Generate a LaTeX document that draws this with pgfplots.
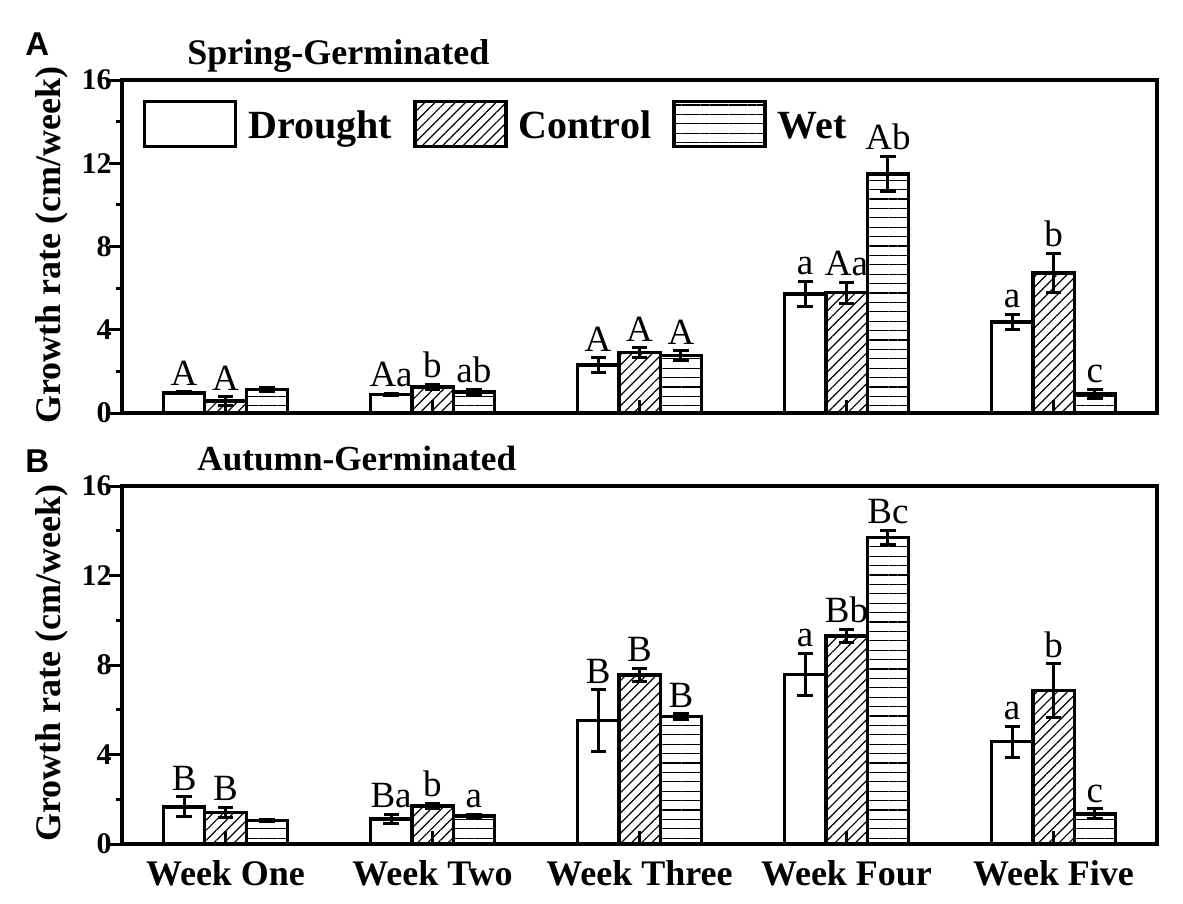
\documentclass[border=0pt]{standalone}
\usepackage{fontspec}
\setmainfont{Liberation Serif}
\newfontfamily\arialf{Liberation Sans}
\usepackage{pgfplots}
\usepackage{pgfplotstable}
\pgfplotsset{compat=1.18}
\usetikzlibrary{patterns.meta}

\pgfplotstableread{
x y err top lab
0 0.97 0.05 1.02 A
1 0.90 0.05 0.95 Aa
2 2.30 0.35 2.65 A
3 5.72 0.60 6.32 a
4 4.37 0.38 4.75 a
}\Adrought
\pgfplotstableread{
x y err top lab
0 0.58 0.20 0.78 A
1 1.25 0.12 1.37 b
2 2.90 0.25 3.15 A
3 5.78 0.50 6.28 Aa
4 6.73 0.95 7.68 b
}\Acontrol
\pgfplotstableread{
x y err top lab
0 1.12 0.10 1.22 {}
1 1.00 0.15 1.15 ab
2 2.75 0.25 3.00 A
3 11.48 0.85 12.33 Ab
4 0.92 0.20 1.12 c
}\Awet
\pgfplotstableread{
x y err top lab
0 1.66 0.45 2.11 B
1 1.12 0.22 1.34 Ba
2 5.52 1.37 6.89 B
3 7.58 0.93 8.51 a
4 4.57 0.70 5.27 a
}\Bdrought
\pgfplotstableread{
x y err top lab
0 1.42 0.22 1.64 B
1 1.70 0.12 1.82 b
2 7.55 0.30 7.85 B
3 9.30 0.30 9.60 Bb
4 6.85 1.20 8.05 b
}\Bcontrol
\pgfplotstableread{
x y err top lab
0 1.05 0.06 1.11 {}
1 1.25 0.07 1.32 a
2 5.70 0.12 5.82 B
3 13.70 0.33 14.03 Bc
4 1.35 0.22 1.57 c
}\Bwet

\pgfplotsset{
  panel/.style={
    scale only axis, width=517.5pt,
    xmin=-0.5, xmax=4.5, ymin=0, ymax=16,
    ybar=0pt, bar width=20.7pt,
    xtick={0,1,2,3,4}, ytick={0,4,8,12,16}, minor ytick={2,6,10,14},
    xtick pos=bottom, ytick pos=left,
    xtick align=inside, ytick align=outside,
    major tick length=6.5pt, minor tick length=3.2pt,
    every tick/.style={black, line width=1.5pt},
    axis line style={line width=1.7pt},
    axis on top,
    /pgf/number format/assume math mode=true,
    yticklabel style={font=\fontsize{15}{15}\selectfont\bfseries, inner sep=0pt, xshift=1.5pt},
    ylabel={Growth rate (cm/week)},
    ylabel style={at={(axis description cs:-0.068,0.505)}, anchor=center, font=\fontsize{18}{18}\selectfont\bfseries},
    legend image code/.code={\draw[##1, line width=1.7pt] (0pt,-4pt) rectangle (45.5pt,18.5pt); \path (51pt,0pt);},
  },
  drought/.style={draw=black, fill=white, line width=1.7pt},
  control/.style={draw=black, line width=1.7pt, pattern={Lines[angle=45,distance=3.6pt,line width=0.6pt]}},
  wet/.style={draw=black, line width=1.7pt, pattern={Lines[angle=0,distance=4.7pt,line width=0.6pt]}},
  errs/.style={forget plot, bar shift=#1,
    error bars/.cd, y dir=both, y explicit,
    error bar style={line width=1.5pt, black},
    error mark options={rotate=90, line width=1.5pt, mark size=3.8pt, black}},
  labs/.style={forget plot, bar shift=#1, draw=none, fill=none,
    point meta=explicit symbolic, nodes near coords,
    every node near coord/.append style={anchor=south, inner sep=0pt, black,
      font=\fontsize{18.5}{18.5}\selectfont, yshift=3pt}},
}

\begin{document}
\begin{tikzpicture}
\path[use as bounding box] (0,0) rectangle (591.5pt,-452pt);
\node[anchor=base west, inner sep=0pt, font=\arialf\fontsize{16.5}{16.5}\selectfont\bfseries] at (12.5pt,-28pt) {A};
\node[anchor=base west, inner sep=0pt, font=\fontsize{18}{18}\selectfont\bfseries] at (93.5pt,-32.5pt) {Spring-Germinated};
\node[anchor=base west, inner sep=0pt, font=\arialf\fontsize{16.5}{16.5}\selectfont\bfseries] at (12.5pt,-236pt) {B};
\node[anchor=base west, inner sep=0pt, font=\fontsize{17.6}{17.6}\selectfont\bfseries] at (98.5pt,-235pt) {Autumn-Germinated};

\begin{axis}[panel, height=166.5pt, at={(61pt,-206.5pt)}, anchor=south west,
  xticklabels={},
  legend style={at={(axis description cs:0.0203,0.94)}, anchor=north west, draw=none, fill=none,
    inner sep=0pt, outer sep=0pt, legend columns=3, nodes={inner sep=0pt},
    cells={anchor=base west},
    font=\fontsize{20}{20}\selectfont\bfseries,
    /tikz/every even column/.append style={column sep=10.5pt}}]
\addplot[drought, errs=-20.7pt] table[x=x, y=y, y error=err] {\Adrought};
\addplot[control, errs=0pt] table[x=x, y=y, y error=err] {\Acontrol};
\addplot[wet, errs=20.7pt] table[x=x, y=y, y error=err] {\Awet};
\addplot[labs=-20.7pt] table[x=x, y=top, meta=lab] {\Adrought};
\addplot[labs=0pt] table[x=x, y=top, meta=lab] {\Acontrol};
\addplot[labs=20.7pt] table[x=x, y=top, meta=lab] {\Awet};
\addlegendimage{drought}
\addlegendentry{Drought}
\addlegendimage{control}
\addlegendentry{Control}
\addlegendimage{wet}
\addlegendentry{Wet}
\end{axis}

\begin{axis}[panel, height=179pt, at={(61pt,-422pt)}, anchor=south west,
  xticklabels={Week One, Week Two, Week Three, Week Four, Week Five},
  xticklabel style={font=\fontsize{18}{18}\selectfont\bfseries, inner sep=0pt, yshift=-8pt}]
\addplot[drought, errs=-20.7pt] table[x=x, y=y, y error=err] {\Bdrought};
\addplot[control, errs=0pt] table[x=x, y=y, y error=err] {\Bcontrol};
\addplot[wet, errs=20.7pt] table[x=x, y=y, y error=err] {\Bwet};
\addplot[labs=-20.7pt] table[x=x, y=top, meta=lab] {\Bdrought};
\addplot[labs=0pt] table[x=x, y=top, meta=lab] {\Bcontrol};
\addplot[labs=20.7pt] table[x=x, y=top, meta=lab] {\Bwet};
\end{axis}
\end{tikzpicture}
\end{document}
